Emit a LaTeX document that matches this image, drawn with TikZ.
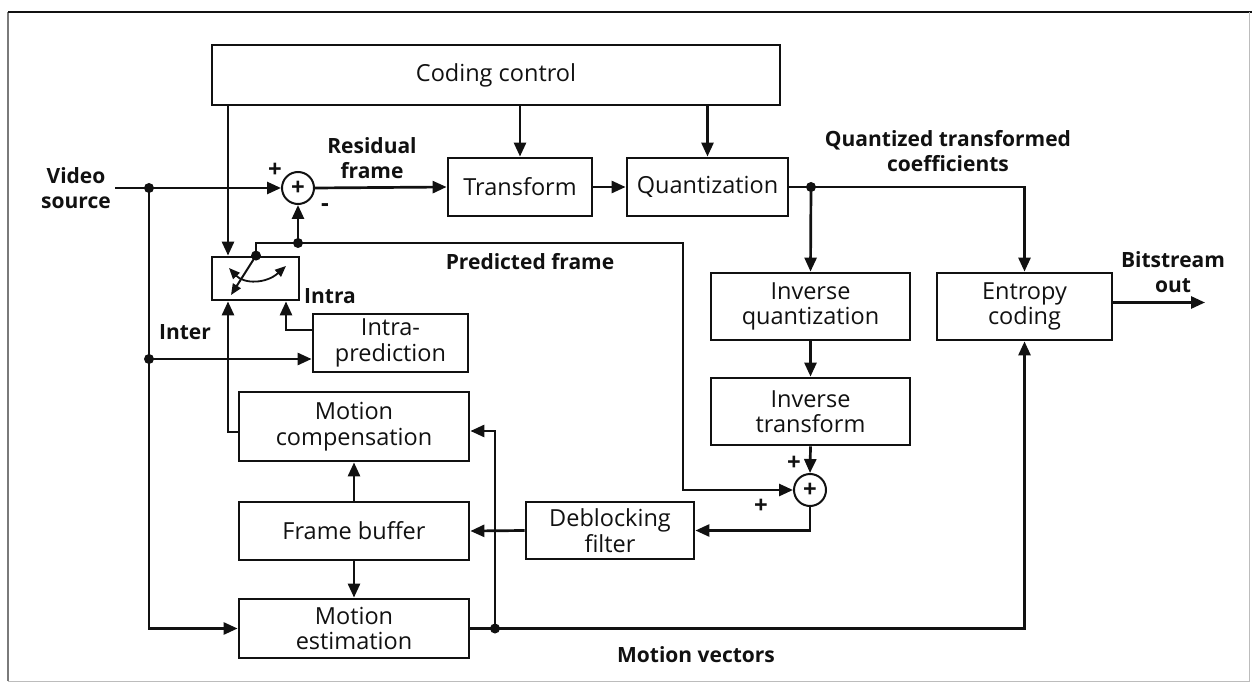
\documentclass[tikz,border=0pt]{standalone}
\usepackage{fontspec}
\setmainfont{Open Sans}
\usetikzlibrary{calc,positioning,arrows.meta}
\usepackage{xcolor}
\definecolor{encInk}{HTML}{111111}
\definecolor{encFrame}{HTML}{7A7A7A}
\tikzset{
  blk/.style     = {draw=encInk, line width=2.8pt, align=center, inner sep=0pt,
                    text=encInk, font=\fontsize{23.5}{25.5}\selectfont},
  sumnode/.style = {circle, draw=encInk, line width=2pt, minimum size=32pt,
                    inner sep=0pt, text=encInk, font=\bfseries\fontsize{24}{24}\selectfont},
  wire/.style    = {line width=2.7pt, color=encInk},
  flow/.style    = {line width=2.7pt, color=encInk,
                    -{Triangle[length=14pt,width=12pt]}},
  tap/.style     = {circle, fill=encInk, inner sep=0pt, minimum size=10pt},
  lbl/.style     = {font=\bfseries\fontsize{21}{25}\selectfont, text=encInk,
                    align=center, inner sep=0pt},
  sgn/.style     = {font=\bfseries\fontsize{24}{24}\selectfont, text=encInk,
                    inner sep=0pt},
}

\begin{document}
\begin{tikzpicture}[x=1pt, y=-1pt, line join=miter]

\useasboundingbox (0,0) rectangle (1252,684);

% --- scan frame ---
\draw[encFrame, line width=1.3pt] (8,681) -- (8,12);
\draw[encInk, line width=1.8pt] (8,12) -- (1252,12);
\draw[encFrame!50, line width=1pt] (8,681) -- (1249,681) -- (1249,12);

% --- blocks ---
\node[blk, minimum width=568, minimum height=60] (ctrl)    at (496,75)      {Coding control};
\node[blk, minimum width=144, minimum height=58] (trans)   at (520,187)     {Transform};
\node[blk, minimum width=161, minimum height=58] (quant)   at (707.5,187)   {Quantization};
\node[blk, minimum width=199, minimum height=67] (invq)    at (810.5,306.5) {Inverse\\quantization};
\node[blk, minimum width=199, minimum height=67] (invt)    at (810.5,411.5) {Inverse\\transform};
\node[blk, minimum width=175, minimum height=67] (entropy) at (1024.5,306.5){Entropy\\coding};
\node[blk, minimum width=87,  minimum height=43] (switch)  at (255.5,278.5) {};
\node[blk, minimum width=155, minimum height=58] (intra)   at (390.5,343)   {Intra-\\prediction};
\node[blk, minimum width=230, minimum height=69] (mcomp)   at (354,426.5)   {Motion\\compensation};
\node[blk, minimum width=230, minimum height=58] (fbuf)    at (354,531)     {Frame buffer};
\node[blk, minimum width=230, minimum height=59] (mest)    at (354,628.5)   {Motion\\estimation};
\node[blk, minimum width=168, minimum height=57] (deblock) at (610,530.5)   {Deblocking\\filter};

% summing points
\node[sumnode] (sum1) at (298,188) {+};
\node[sumnode] (sum2) at (810,490) {+};

% switch contacts
\coordinate (swC)     at ([xshift=-27.5pt]switch.north);
\coordinate (swO)     at ([xshift=0.5pt]switch.north);
\coordinate (swInter) at ([xshift=-27.5pt]switch.south);
\coordinate (swIntra) at ([xshift=30.5pt]switch.south);

% free ends and bends
\coordinate (vsrc) at (115,188);
\coordinate (bout) at (1205,302.5);
\coordinate (bend) at (683,243);

% taps
\node[tap] (tapV) at (149,188)   {};
\node[tap] (tapI) at (149,359)   {};
\node[tap] (tapS) at (swO)       {};
\node[tap] (tapP) at (298,243)   {};
\node[tap] (tapQ) at (811,187)   {};
\node[tap] (tapM) at (495,628.5) {};

% --- forward path ---
\draw[flow] (vsrc) -- (sum1.west);
\draw[flow] (sum1.east) -- (trans.west);
\draw[flow] (trans.east) -- (quant.west);
\draw[flow] (quant.east) -| (entropy.north);
\draw[flow] ([yshift=4pt]entropy.east) -- (bout);

% coding control
\draw[flow] (ctrl.south -| swC) -- (swC);
\draw[flow] (ctrl.south -| trans.north) -- (trans.north);
\draw[flow] (ctrl.south -| quant.north) -- (quant.north);

% --- reconstruction loop ---
\draw[flow] (tapQ.center) -- (invq.north);
\draw[flow] (invq.south) -- (invt.north);
\draw[flow] (invt.south) -- (sum2.north);
\draw[flow] (sum2.south) |- (deblock.east);
\draw[flow] (deblock.west) -- (fbuf.east);
\draw[flow] (fbuf.north) -- (mcomp.south);
\draw[flow] (fbuf.south) -- (mest.north);

% --- prediction ---
\draw[flow] (tapV.center) |- (mest.west);
\draw[flow] (tapI.center) -- (tapI.center -| intra.west);
\draw[flow] ([yshift=13pt]intra.west) -| (swIntra);
\draw[flow] ([yshift=-5.5pt]mcomp.west) -| (swInter);
\draw[flow] (mest.east) -| (entropy.south);
\draw[flow] (tapM.center) |- ([yshift=-4.5pt]mcomp.east);

% predicted frame
\draw[wire] (tapS.center) -- (tapS.center |- tapP.center) -- (tapP.center);
\draw[flow] (tapP.center) -- (sum1.south);
\draw[flow] (tapP.center) -- (bend) |- (sum2.west);

% switch arm and throw
\draw[line width=2pt, color=encInk, -{Triangle[length=11pt,width=9pt]}]
  (tapS.center) -- (231,295);
\draw[line width=1.8pt, color=encInk,
      {Triangle[length=11pt,width=9pt]}-{Triangle[length=11pt,width=9pt]}]
  (229,268) .. controls (244,284) and (266,284) .. (286,266);

% --- labels ---
\node[lbl] (lblSrc)  at (76,188)    {Video\\source};
\node[lbl] (lblRes)  at (372,158)   {Residual\\frame};
\node[lbl] (lblQtc)  at (948,151)   {Quantized transformed\\coefficients};
\node[lbl] (lblBit)  at (1173,272)  {Bitstream\\out};
\node[lbl] (lblPred) at (530,262)   {Predicted frame};
\node[lbl] (lblIntra)at (330,296)   {Intra};
\node[lbl] (lblInter)at (185,332)   {Inter};
\node[lbl] (lblMv)   at (696,655)   {Motion vectors};

% signs at the summing points
\node[sgn] (s1a) at (275,170) {+};
\node[sgn] (s1b) at (325,208) {-};
\node[sgn] (s2a) at (794,463) {+};
\node[sgn] (s2b) at (761,506) {+};

\end{tikzpicture}
\end{document}
